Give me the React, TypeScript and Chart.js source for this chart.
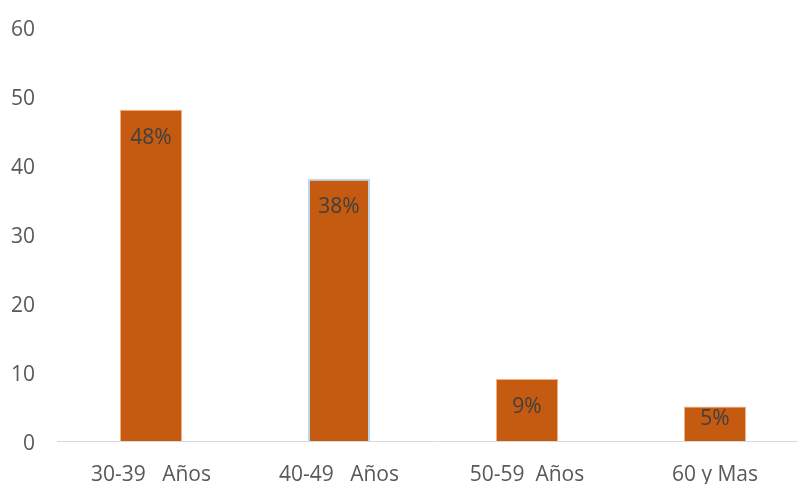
import React, { useEffect, useRef } from "react";
import { Chart, registerables } from "chart.js";

Chart.register(...registerables);

const categories = ["30-39   Años", "40-49   Años", "50-59  Años", "60 y Mas"];
const values = [48, 38, 9, 5];
const valueLabels = ["48%", "38%", "9%", "5%"];
const yTicks = [0, 10, 20, 30, 40, 50, 60];

const FONT = "'Open Sans', sans-serif";

const labelPlugin = {
  id: "barLabels",
  afterDatasetsDraw(chart: any) {
    const ctx = chart.ctx;
    const meta = chart.getDatasetMeta(0);
    ctx.save();
    ctx.font = `21px ${FONT}`;
    ctx.fillStyle = "#404040";
    ctx.textAlign = "center";
    ctx.textBaseline = "middle";
    meta.data.forEach((bar: any, i: number) => {
      const y = Math.min(bar.y + 28.5, bar.base - 22);
      ctx.fillText(valueLabels[i], bar.x, y);
    });
    ctx.restore();
  },
};

export default function App() {
  const ref = useRef<HTMLCanvasElement>(null);
  useEffect(() => {
    document.body.style.margin = "0";
    document.body.style.overflow = "hidden";
    const chart = new Chart(ref.current!, {
      type: "bar",
      data: {
        labels: categories,
        datasets: [
          {
            data: values,
            backgroundColor: "#C55A11",
            borderColor: ["#F4B183", "#BDD7EE", "#F4B183", "#F4B183"],
            borderWidth: [1, 2, 1, 1],
            categoryPercentage: 1,
            barPercentage: 0.33,
          },
        ],
      },
      options: {
        animation: false,
        responsive: false,
        maintainAspectRatio: false,
        devicePixelRatio: 1,
        layout: { padding: { top: 27, right: 3, left: 0, bottom: 0 } },
        plugins: { legend: { display: false }, tooltip: { enabled: false } },
        scales: {
          x: {
            grid: { display: false, drawTicks: false },
            border: { display: true, color: "#D9D9D9", width: 1 },
            ticks: { color: "#595959", font: { family: FONT, size: 21 }, padding: 21, maxRotation: 0, autoSkip: false },
            afterFit: (s: any) => {
              s.height = 43;
              s.paddingLeft = 0;
              s.paddingRight = 0;
            },
          },
          y: {
            min: 0,
            max: 60,
            afterBuildTicks: (s: any) => { s.ticks = yTicks.map((v) => ({ value: v })); },
            grid: { display: false, drawTicks: false },
            border: { display: false },
            ticks: {
              color: "#595959",
              font: { family: FONT, size: 21, lineHeight: "7px" },
              padding: 22,
              callback: (v: any) => ["", String(v)],
            },
            afterFit: (s: any) => {
              s.width = 57;
              s.paddingTop = 0;
              s.paddingBottom = 0;
            },
          },
        },
      },
      plugins: [labelPlugin],
    });
    return () => chart.destroy();
  }, []);
  return (
    <div style={{ position: "fixed", left: 0, top: 0, width: 812, height: 484 }}>
      <canvas ref={ref} width={812} height={484} style={{ width: 812, height: 484 }} />
    </div>
  );
}
